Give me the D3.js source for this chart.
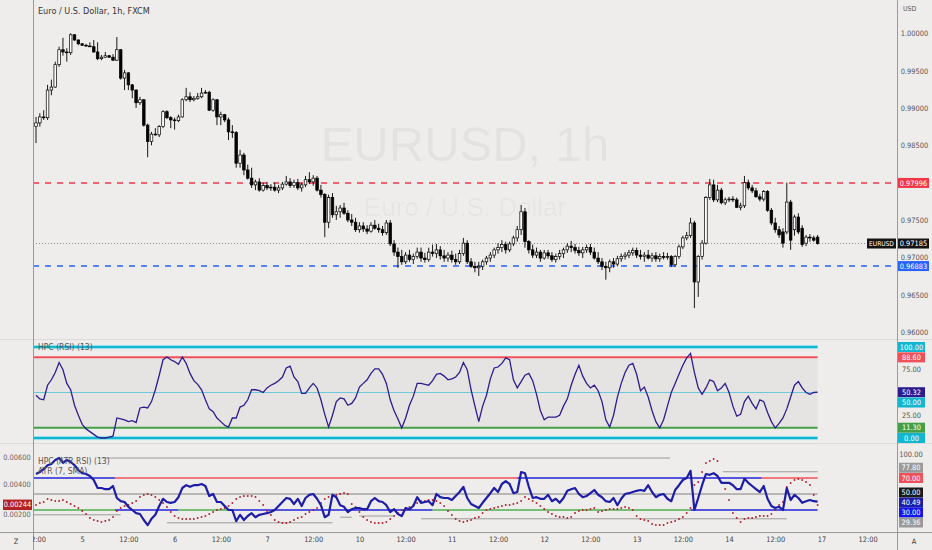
<!DOCTYPE html>
<html><head><meta charset="utf-8">
<script src="https://cdn.jsdelivr.net/npm/d3@7/dist/d3.min.js"></script>
<style>
body{margin:0;background:#efedeb;}
svg{display:block;}
text{font-family:"Liberation Sans Narrow","DejaVu Sans Condensed","Liberation Sans",sans-serif;}
</style>
</head><body>
<svg id="chart" width="932" height="550"></svg>
<script>
// ---------- DATA ----------
const opens=[0.9875,0.9880,0.9888,0.9887,0.9924,0.9928,0.9958,0.9978,0.9975,0.9974,
0.9998,0.9991,0.9986,0.9984,0.9983,0.9982,0.9975,0.9966,0.9968,0.9970,
0.9968,0.9964,0.9978,0.9940,0.9947,0.9931,0.9924,0.9907,0.9911,0.9877,
0.9855,0.9865,0.9864,0.9875,0.9895,0.9887,0.9884,0.9883,0.9888,0.9911,
0.9915,0.9911,0.9913,0.9915,0.9920,0.9921,0.9897,0.9911,0.9888,0.9891,
0.9884,0.9868,0.9867,0.9826,0.9837,
0.9817,0.9806,0.9797,0.9801,0.9790,0.9796,0.9793,0.9794,0.9790,0.9793,
0.9798,0.9801,0.9796,0.9800,0.9793,0.9797,0.9804,0.9801,0.9806,0.9790,
0.9784,0.9747,0.9780,0.9757,0.9761,0.9766,0.9759,0.9750,0.9747,0.9737,
0.9742,0.9738,0.9735,0.9743,0.9739,0.9737,0.9733,0.9746,0.9718,0.9707,
0.9701,0.9694,0.9703,0.9697,0.9701,0.9707,0.9699,0.9697,0.9707,0.9705,
0.9710,0.9702,0.9699,0.9703,0.9697,0.9694,0.9705,0.9719,0.9694,0.9688,
0.9686,0.9688,0.9694,0.9699,0.9703,0.9710,0.9713,0.9717,0.9710,0.9718,
0.9726,0.9737,0.9761,0.9721,0.9710,0.9703,0.9707,0.9699,0.9706,0.9702,
0.9697,0.9701,0.9705,0.9710,0.9715,0.9713,0.9709,0.9706,0.9710,0.9713,
0.9707,0.9699,0.9694,0.9688,0.9686,0.9694,0.9691,0.9698,0.9701,0.9703,
0.9706,0.9709,0.9703,0.9701,0.9703,0.9699,0.9702,0.9698,0.9701,0.9700,
0.9701,0.9690,0.9701,0.9714,0.9726,0.9729,0.9746,0.9667,0.9701,0.9719,
0.9780,0.9797,0.9777,0.9790,0.9773,0.9777,0.9778,0.9777,0.9767,0.9769,
0.9800,0.9793,0.9789,0.9781,0.9778,0.9788,0.9763,0.9746,0.9737,0.9734,
0.9734,0.9774,0.9737,0.9754,0.9739,0.9719,0.9727,0.9726,0.9727];
const highs=[0.9888,0.9893,0.9897,0.9931,0.9938,0.9962,0.9982,0.9994,0.9980,1.0000,
0.9999,0.9992,0.9987,0.9986,0.9988,0.9991,0.9988,0.9971,0.9975,0.9971,
0.9972,0.9995,0.9979,0.9951,0.9948,0.9932,0.9925,0.9915,0.9912,0.9879,
0.9868,0.9873,0.9877,0.9897,0.9897,0.9889,0.9887,0.9891,0.9913,0.9927,
0.9921,0.9916,0.9920,0.9927,0.9924,0.9923,0.9913,0.9912,0.9895,0.9892,
0.9887,0.9877,0.9869,0.9844,0.9840,
0.9824,0.9820,0.9804,0.9806,0.9800,0.9801,0.9798,0.9800,0.9797,0.9801,
0.9809,0.9806,0.9804,0.9805,0.9800,0.9809,0.9814,0.9810,0.9809,0.9797,
0.9786,0.9784,0.9786,0.9769,0.9770,0.9773,0.9763,0.9758,0.9753,0.9747,
0.9747,0.9743,0.9747,0.9750,0.9745,0.9742,0.9750,0.9750,0.9723,0.9713,
0.9710,0.9707,0.9710,0.9705,0.9713,0.9713,0.9706,0.9713,0.9717,0.9718,
0.9715,0.9710,0.9707,0.9709,0.9705,0.9710,0.9726,0.9723,0.9699,0.9694,
0.9694,0.9697,0.9702,0.9707,0.9713,0.9719,0.9723,0.9721,0.9721,0.9729,
0.9742,0.9770,0.9766,0.9723,0.9717,0.9713,0.9710,0.9710,0.9710,0.9707,
0.9705,0.9710,0.9713,0.9719,0.9722,0.9718,0.9714,0.9714,0.9717,0.9718,
0.9713,0.9707,0.9699,0.9694,0.9697,0.9699,0.9702,0.9705,0.9707,0.9710,
0.9713,0.9713,0.9710,0.9707,0.9710,0.9706,0.9707,0.9705,0.9707,0.9706,
0.9703,0.9703,0.9717,0.9729,0.9734,0.9753,0.9749,0.9703,0.9723,0.9782,
0.9805,0.9804,0.9797,0.9793,0.9780,0.9781,0.9782,0.9780,0.9773,0.9809,
0.9804,0.9797,0.9793,0.9785,0.9790,0.9790,0.9766,0.9753,0.9742,0.9739,
0.9800,0.9777,0.9757,0.9759,0.9743,0.9730,0.9731,0.9729,0.9730];
const lows=[0.9853,0.9875,0.9884,0.9884,0.9917,0.9927,0.9955,0.9970,0.9962,0.9971,
0.9990,0.9984,0.9983,0.9982,0.9982,0.9974,0.9964,0.9964,0.9967,0.9967,
0.9963,0.9963,0.9938,0.9924,0.9924,0.9913,0.9900,0.9904,0.9875,0.9834,
0.9850,0.9863,0.9861,0.9873,0.9885,0.9873,0.9871,0.9881,0.9887,0.9909,
0.9908,0.9909,0.9911,0.9913,0.9919,0.9896,0.9895,0.9877,0.9877,0.9881,
0.9857,0.9860,0.9820,0.9820,0.9810,
0.9804,0.9793,0.9790,0.9788,0.9788,0.9790,0.9789,0.9788,0.9786,0.9790,
0.9796,0.9793,0.9793,0.9790,0.9788,0.9794,0.9798,0.9796,0.9788,0.9780,
0.9727,0.9739,0.9753,0.9750,0.9753,0.9757,0.9747,0.9742,0.9734,0.9733,
0.9734,0.9731,0.9733,0.9737,0.9733,0.9729,0.9730,0.9715,0.9702,0.9686,
0.9690,0.9691,0.9694,0.9691,0.9698,0.9694,0.9693,0.9694,0.9701,0.9699,
0.9697,0.9694,0.9694,0.9693,0.9690,0.9691,0.9702,0.9691,0.9686,0.9680,
0.9675,0.9683,0.9690,0.9694,0.9699,0.9705,0.9707,0.9705,0.9707,0.9715,
0.9721,0.9730,0.9713,0.9705,0.9699,0.9699,0.9694,0.9697,0.9698,0.9694,
0.9693,0.9697,0.9699,0.9706,0.9707,0.9705,0.9702,0.9699,0.9706,0.9703,
0.9697,0.9691,0.9683,0.9670,0.9680,0.9686,0.9688,0.9694,0.9697,0.9699,
0.9702,0.9699,0.9697,0.9694,0.9697,0.9694,0.9694,0.9694,0.9697,0.9697,
0.9687,0.9687,0.9698,0.9711,0.9723,0.9726,0.9632,0.9647,0.9697,0.9717,
0.9777,0.9774,0.9774,0.9771,0.9770,0.9774,0.9774,0.9766,0.9763,0.9766,
0.9790,0.9786,0.9780,0.9775,0.9775,0.9761,0.9743,0.9733,0.9726,0.9713,
0.9731,0.9710,0.9729,0.9731,0.9714,0.9715,0.9721,0.9721,0.9717];
const closes=[0.9880,0.9888,0.9887,0.9924,0.9928,0.9958,0.9978,0.9975,0.9974,0.9998,
0.9991,0.9986,0.9984,0.9983,0.9982,0.9975,0.9966,0.9968,0.9970,0.9968,
0.9964,0.9978,0.9940,0.9947,0.9931,0.9924,0.9907,0.9911,0.9877,0.9855,
0.9865,0.9864,0.9875,0.9895,0.9887,0.9884,0.9883,0.9888,0.9911,0.9915,
0.9911,0.9913,0.9915,0.9920,0.9921,0.9897,0.9911,0.9888,0.9891,0.9884,
0.9868,0.9867,0.9826,0.9837,0.9817,
0.9806,0.9797,0.9801,0.9790,0.9796,0.9793,0.9794,0.9790,0.9793,0.9798,
0.9801,0.9796,0.9800,0.9793,0.9797,0.9804,0.9801,0.9806,0.9790,0.9784,
0.9747,0.9780,0.9757,0.9761,0.9766,0.9759,0.9750,0.9747,0.9737,0.9742,
0.9738,0.9735,0.9743,0.9739,0.9737,0.9733,0.9746,0.9718,0.9707,0.9701,
0.9694,0.9703,0.9697,0.9701,0.9707,0.9699,0.9697,0.9707,0.9705,0.9710,
0.9702,0.9699,0.9703,0.9697,0.9694,0.9705,0.9719,0.9694,0.9688,0.9686,
0.9688,0.9694,0.9699,0.9703,0.9710,0.9713,0.9717,0.9710,0.9718,0.9726,
0.9737,0.9761,0.9721,0.9710,0.9703,0.9707,0.9699,0.9706,0.9702,0.9697,
0.9701,0.9705,0.9710,0.9715,0.9713,0.9709,0.9706,0.9710,0.9713,0.9707,
0.9699,0.9694,0.9688,0.9686,0.9694,0.9691,0.9698,0.9701,0.9703,0.9706,
0.9709,0.9703,0.9701,0.9703,0.9699,0.9702,0.9698,0.9701,0.9700,0.9701,
0.9690,0.9701,0.9714,0.9726,0.9729,0.9746,0.9667,0.9701,0.9719,0.9780,
0.9797,0.9777,0.9790,0.9773,0.9777,0.9778,0.9777,0.9767,0.9769,0.9800,
0.9793,0.9789,0.9781,0.9778,0.9788,0.9763,0.9746,0.9737,0.9730,0.9719,
0.9774,0.9723,0.9754,0.9734,0.9717,0.9727,0.9726,0.9723,0.97185];

const rsiValues=[47,43,42,58,64,72,83,75,60,53,
36,25,15,10,7,4,1,0,0,1,
2,22,21,20,18,19,17,33,34,33,
40,53,69,86,89,86,84,81,89,82,
71,63,59,53,42,32,29,22,18,14,
12,22,22,34,36,42,53,53,52,50,
55,58,60,63,67,77,79,67,62,49,
49,55,60,55,42,26,12,25,40,44,
43,36,38,44,56,60,64,71,76,76,
70,60,42,30,21,11,22,36,46,60,
60,59,58,63,70,71,68,64,65,67,
72,83,75,53,35,18,35,47,65,77,
78,82,88,86,64,55,62,69,71,63,
48,30,20,23,23,23,25,35,43,58,
70,80,68,60,55,58,52,40,20,12,
25,45,60,72,80,82,70,52,56,45,
30,18,11,20,35,50,60,70,80,88,
93,72,55,48,55,64,62,52,55,60,
50,35,24,26,40,46,38,32,42,40,
28,18,11,16,22,32,45,58,62,55,
50,48,50,50.32];

const hpcValues=[75,77.5,81,86,87.5,92.5,95,89,92.5,90,
86,80,76,75,72.5,67.5,57.5,57.5,56,56,
60,45,41,40,34,30,26,25,17.5,11,
19,24,35,44,40,39,40,46,57.5,61,
59,61,61,62.5,60,47.5,50,40,40,35,
30,30,16,24,17.5,22.5,26,21,24,25,
26,27.5,30,35,40,45,44,37.5,44,35,
45,49,50,44,36,21,24,49,46,36,
34,27.5,31,32.5,32.5,31,31,41,45,41,
40,36,27.5,31,25,22.5,32.5,31,35,46,
39,40,41,36,50,46,45,45,42.5,47.5,
52.5,59,45,37.5,35,32.5,39,45,51,57.5,
52.5,62.5,66,62.5,51,52.5,77.5,76,59,45,
46,44,44,49,41,44,39,45,54,56,
57.5,50,46,47.5,51,55,49,46,41,40,
45,36,44,50,51,52.5,54,55,54,61,
52.5,46,49,50,44,41,55,61,67.5,70,
79,30,45,61,75,74,76,72.5,64,64,
64,61,56,56,69,64,60,56,52.5,60,
44,35,32.5,34,30,57.5,42.5,49,45,39,
41,42.5,41,40.49];

const atrValues=[.00244,.00259,.00267,.00289,.00281,.00274,.00274,.00281,.00267,.00252,
.00237,.00222,.00200,.00178,.00148,.00133,.00126,.00119,.00126,.00133,
.00156,.00200,.00222,.00237,.00244,.00259,.00274,.00304,.00319,.00326,
.00319,.00304,.00281,.00259,.00230,.00193,.00163,.00148,.00141,.00141,
.00141,.00141,.00148,.00156,.00163,.00178,.00193,.00207,.00215,.00222,
.00237,.00259,.00289,.00304,.00311,.00311,.00311,.00304,.00274,.00244,
.00200,.00170,.00133,.00119,.00111,.00111,.00119,.00133,.00148,.00156,
.00178,.00193,.00207,.00222,.00259,.00289,.00304,.00311,.00319,.00326,
.00333,.00326,.00252,.00230,.00193,.00156,.00133,.00119,.00111,.00111,
.00111,.00119,.00141,.00163,.00185,.00207,.00222,.00230,.00244,.00259,
.00274,.00274,.00281,.00281,.00274,.00259,.00237,.00200,.00170,.00141,
.00126,.00119,.00126,.00133,.00148,.00156,.00185,.00207,.00215,.00222,
.00230,.00237,.00244,.00244,.00252,.00259,.00274,.00304,.00289,.00274,
.00259,.00237,.00215,.00193,.00178,.00163,.00156,.00156,.00148,.00156,
.00185,.00200,.00207,.00207,.00215,.00222,.00193,.00200,.00207,.00215,
.00215,.00215,.00222,.00230,.00222,.00207,.00163,.00141,.00133,.00126,
.00104,.00096,.00096,.00096,.00111,.00119,.00126,.00141,.00156,.00185,
.00222,.00393,.00415,.00489,.00556,.00570,.00585,.00570,.00415,.00363,
.00281,.00185,.00148,.00119,.00141,.00148,.00148,.00156,.00163,.00163,
.00163,.00178,.00207,.00244,.00267,.00378,.00407,.00430,.00437,.00430,
.00415,.00393,.00319,.00244];

const priceTicks=[1.0,0.995,0.99,0.985,0.975,0.97,0.965,0.96];
const resistance=0.97996, support=0.96883, lastPrice=0.97185;
const timeTickIndex=[0,12,24,36,48,60,72,84,96,108,120,132,144,156,168,180,192,204,216];
const timeTickLabels=["12:00","5","12:00","6","12:00","7","12:00","10","12:00","11","12:00","12","12:00","13","12:00","14","12:00","17","12:00"];
const rsiLevels={top:100,upper:88.6,mid:50,lower:11.3,bottom:0};
// bottom pane level segments: [fromIndex, toIndex, level, colour]
const hpcSegments=[[-1,20.5,70,"#2222d8"],[20.5,125,70,"#f0505a"],[125,188.5,70,"#2222d8"],[188.5,203,70,"#f0505a"],
[-1,20.5,30,"#4caf50"],[20.5,37,30,"#2222d8"],[37,50.5,30,"#4caf50"],[50.5,103,30,"#2222d8"],[103,170,30,"#4caf50"],[170,203,30,"#2222d8"]];
const graySegments=[[17,164.7,95],[178.4,203,77.8],[-1,22,24],[34,77,14],[79,82,21],[84,93,22.5],[100,195,19]];
const atrTicks=[0.006,0.004,0.002];
const lastAtr=0.00244;

// ---------- SCALES ----------
const svg=d3.select("#chart");
const BG="#efedeb";
svg.append("rect").attr("width",932).attr("height",550).attr("fill",BG);
const x=d3.scaleLinear().domain([0,203]).range([36,817.6]);
const yP=d3.scaleLinear().domain([0.96,1.0]).range([332,33.3]);
const yR=d3.scaleLinear().domain([0,100]).range([438,347]);
const yH=d3.scaleLinear().domain([30,70]).range([510,478]);
const yA=d3.scaleLinear().domain([0.002,0.006]).range([511,457]);

const defs=svg.append("defs");
function clip(id,x0,y0,w,h){defs.append("clipPath").attr("id",id).append("rect").attr("x",x0).attr("y",y0).attr("width",w).attr("height",h);}
clip("cm",33,0,864,339);clip("cr",33,340,864,103);clip("cb",33,444,864,88);clip("ct",33,532,864,18);

// ---------- MAIN PANE ----------
const gm=svg.append("g").attr("clip-path","url(#cm)");
gm.append("text").attr("x",465).attr("y",161).attr("text-anchor","middle").attr("font-size",49)
  .attr("fill","#000").attr("fill-opacity",0.045).style("font-family","'Liberation Sans',sans-serif").text("EURUSD, 1h");
gm.append("text").attr("x",465).attr("y",216).attr("text-anchor","middle").attr("font-size",26)
  .attr("fill","#000").attr("fill-opacity",0.045).style("font-family","'Liberation Sans',sans-serif").text("Euro / U.S. Dollar");

gm.append("line").attr("x1",33).attr("x2",897).attr("y1",yP(resistance)).attr("y2",yP(resistance))
  .attr("stroke","#f23645").attr("stroke-width",1.4).attr("stroke-dasharray","6,6");
gm.append("line").attr("x1",33).attr("x2",897).attr("y1",yP(support)).attr("y2",yP(support))
  .attr("stroke","#2962ff").attr("stroke-width",1.4).attr("stroke-dasharray","6,6");
gm.append("line").attr("x1",33).attr("x2",897).attr("y1",yP(lastPrice)).attr("y2",yP(lastPrice))
  .attr("stroke","#777").attr("stroke-width",0.8).attr("stroke-dasharray","1,2");

const idx=d3.range(closes.length);
const bw=2.6;
gm.selectAll("line.wick").data(idx).join("line").attr("class","wick")
  .attr("x1",i=>x(i)).attr("x2",i=>x(i)).attr("y1",i=>yP(highs[i])).attr("y2",i=>yP(lows[i]))
  .attr("stroke","#000").attr("stroke-width",0.9);
gm.selectAll("rect.body").data(idx).join("rect").attr("class","body")
  .attr("x",i=>x(i)-bw/2).attr("width",bw)
  .attr("y",i=>yP(Math.max(opens[i],closes[i])))
  .attr("height",i=>Math.max(0.8,Math.abs(yP(opens[i])-yP(closes[i]))))
  .attr("fill",i=>closes[i]>=opens[i]?"#ffffff":"#000000")
  .attr("stroke","#000").attr("stroke-width",0.7);

svg.append("text").attr("x",38).attr("y",14).attr("font-size",9).attr("fill","#333").text("Euro / U.S. Dollar, 1h, FXCM");

// ---------- RSI PANE ----------
const gr=svg.append("g").attr("clip-path","url(#cr)");
const rx0=33, rx1=x(203);
gr.append("rect").attr("x",rx0).attr("width",rx1-rx0).attr("y",yR(rsiLevels.upper)).attr("height",yR(rsiLevels.lower)-yR(rsiLevels.upper))
  .attr("fill","#000").attr("fill-opacity",0.035);
function hl(g,y,col,w){g.append("line").attr("x1",rx0).attr("x2",rx1).attr("y1",y).attr("y2",y).attr("stroke",col).attr("stroke-width",w);}
hl(gr,yR(rsiLevels.top),"#c9eef4",4.5);hl(gr,yR(rsiLevels.top),"#13b6d1",2.6);
hl(gr,yR(rsiLevels.bottom),"#c9eef4",4.5);hl(gr,yR(rsiLevels.bottom),"#13b6d1",2.6);
hl(gr,yR(rsiLevels.upper),"#f0505a",2);
hl(gr,yR(rsiLevels.mid),"#6cc9da",1.2);
hl(gr,yR(rsiLevels.lower),"#43a047",2);
gr.append("path").datum(idx).attr("fill","none").attr("stroke","#2c1d8f").attr("stroke-width",1.3)
  .attr("d",d3.line().x(i=>x(i)).y(i=>yR(rsiValues[i])));
svg.append("text").attr("x",38).attr("y",347).attr("dy","0.35em").attr("font-size",8.5).attr("fill","#555").text("HPC (RSI) (13)");

// ---------- BOTTOM PANE ----------
const gb=svg.append("g").attr("clip-path","url(#cb)");
graySegments.forEach(s=>gb.append("line").attr("x1",x(s[0])).attr("x2",x(s[1])).attr("y1",yH(s[2])).attr("y2",yH(s[2]))
  .attr("stroke","#9a9a9a").attr("stroke-width",1));
gb.append("line").attr("x1",33).attr("x2",x(203)).attr("y1",yH(50)).attr("y2",yH(50)).attr("stroke","#808080").attr("stroke-width",1);
hpcSegments.forEach(s=>gb.append("line").attr("x1",x(s[0])).attr("x2",x(s[1])).attr("y1",yH(s[2])).attr("y2",yH(s[2]))
  .attr("stroke",s[3]).attr("stroke-width",1.6));
gb.selectAll("circle.atr").data(idx).join("circle").attr("class","atr")
  .attr("cx",i=>x(i)).attr("cy",i=>yA(atrValues[i])).attr("r",0.95).attr("fill","#b0202c");
gb.append("path").datum(idx).attr("fill","none").attr("stroke","#1d1da8").attr("stroke-width",2.2).attr("stroke-linejoin","round")
  .attr("d",d3.line().x(i=>x(i)).y(i=>yH(hpcValues[i])));
svg.append("text").attr("x",38).attr("y",461).attr("dy","0.35em").attr("font-size",8.5).attr("fill","#555").text("HPC (ATR RSI) (13)");
svg.append("text").attr("x",38).attr("y",471.5).attr("dy","0.35em").attr("font-size",8.5).attr("fill","#555").text("ATR (7, SMA)");

// ---------- BORDERS ----------
svg.append("line").attr("x1",0).attr("x2",932).attr("y1",339.5).attr("y2",339.5).attr("stroke","#dcdad8");
svg.append("line").attr("x1",0).attr("x2",932).attr("y1",443.5).attr("y2",443.5).attr("stroke","#dcdad8");
svg.append("line").attr("x1",0).attr("x2",932).attr("y1",532.5).attr("y2",532.5).attr("stroke","#9a9a9a");
svg.append("line").attr("x1",33.5).attr("x2",33.5).attr("y1",0).attr("y2",550).attr("stroke","#9a9a9a");
svg.append("line").attr("x1",897.5).attr("x2",897.5).attr("y1",0).attr("y2",550).attr("stroke","#9a9a9a");

// ---------- AXES ----------
const fs=7.4;
const ax=svg.append("g").attr("transform","translate(914.5,0)")
  .call(d3.axisRight(yP).tickValues(priceTicks).tickFormat(d3.format(".5f")).tickSize(0).tickPadding(0));
ax.select(".domain").remove();
ax.selectAll("text").attr("text-anchor","middle").attr("font-size",fs).attr("fill","#555");
svg.append("text").attr("x",903).attr("y",9).attr("dy","0.35em").attr("font-size",7).attr("fill","#555").text("USD");

function tag(xl,yc,w,txt,fill,col,size){
  const g=svg.append("g");
  if(fill) g.append("rect").attr("x",xl).attr("y",yc-5).attr("width",w).attr("height",10).attr("fill",fill);
  g.append("text").attr("x",xl+w/2).attr("y",yc).attr("dy","0.35em").attr("text-anchor","middle").attr("font-size",size||fs).attr("fill",col).text(txt);
}
const f5=d3.format(".5f"), f2=d3.format(".2f");
tag(898,yP(resistance),31,f5(resistance),"#f23645","#fff");
tag(898,yP(support),31,f5(support),"#2962ff","#fff");
tag(898,yP(lastPrice),31,f5(lastPrice),"#131313","#fff");
tag(867,yP(lastPrice),29,"EURUSD","#131313","#fff",6.6);

// RSI labels
tag(898,yR(100),27,f2(100),"#13b6d1","#fff");
tag(898,yR(rsiLevels.upper),27,f2(rsiLevels.upper),"#f0505a","#fff");
tag(898,yR(75),27,f2(75),null,"#555");
tag(898,yR(rsiValues[203]),27,f2(rsiValues[203]),"#2c1d8f","#fff");
tag(898,yR(50)+10,27,f2(50),"#13b6d1","#fff");
tag(898,yR(25),27,f2(25),null,"#555");
tag(898,yR(rsiLevels.lower),27,f2(rsiLevels.lower),"#43a047","#fff");
tag(898,yR(0),27,f2(0),"#13b6d1","#fff");

// bottom labels
tag(899,yH(100),24,f2(100),null,"#555");
tag(899,yH(77.8)-4,24,f2(77.8),"#9a9a9a","#fff");
tag(899,yH(70),24,f2(70),"#f0505a","#fff");
tag(899,yH(50)-1.5,24,f2(50),"#1a1a1a","#fff");
tag(899,yH(hpcValues[203])+1,24,f2(hpcValues[203]),"#1d1da8","#fff");
tag(899,yH(30)+2.5,24,f2(30),"#1414f0","#fff");
tag(899,yH(29.36)+12,24,f2(29.36),"#9a9a9a","#fff");

// left ATR axis
const la=svg.append("g").attr("transform","translate(17,0)")
  .call(d3.axisRight(yA).tickValues(atrTicks).tickFormat(d3.format(".5f")).tickSize(0).tickPadding(0));
la.select(".domain").remove();
la.selectAll("text").attr("text-anchor","middle").attr("font-size",fs).attr("fill","#666");
la.selectAll(".tick").filter(d=>d===0.002).select("text").attr("dy","0.75em");
svg.append("rect").attr("x",3).attr("y",yA(lastAtr)-5.5).attr("width",29).attr("height",10.5).attr("fill","#b22222");
svg.append("text").attr("x",17.5).attr("y",yA(lastAtr)-0.3).attr("dy","0.35em").attr("text-anchor","middle").attr("font-size",fs).attr("fill","#fff").text(f5(lastAtr));

// time axis
const tg=svg.append("g").attr("clip-path","url(#ct)");
const ta=tg.append("g").attr("transform","translate(0,532)")
  .call(d3.axisBottom(x).tickValues(timeTickIndex).tickFormat((d,i)=>timeTickLabels[i]).tickSize(0).tickPadding(5));
ta.select(".domain").remove();
ta.selectAll("text").attr("font-size",fs).attr("fill","#444");
svg.append("text").attr("x",16).attr("y",541).attr("dy","0.35em").attr("text-anchor","middle").attr("font-size",fs).attr("fill","#444").text("Z");
svg.append("text").attr("x",914).attr("y",541).attr("dy","0.35em").attr("text-anchor","middle").attr("font-size",fs).attr("fill","#444").text("A");
</script>
</body></html>
